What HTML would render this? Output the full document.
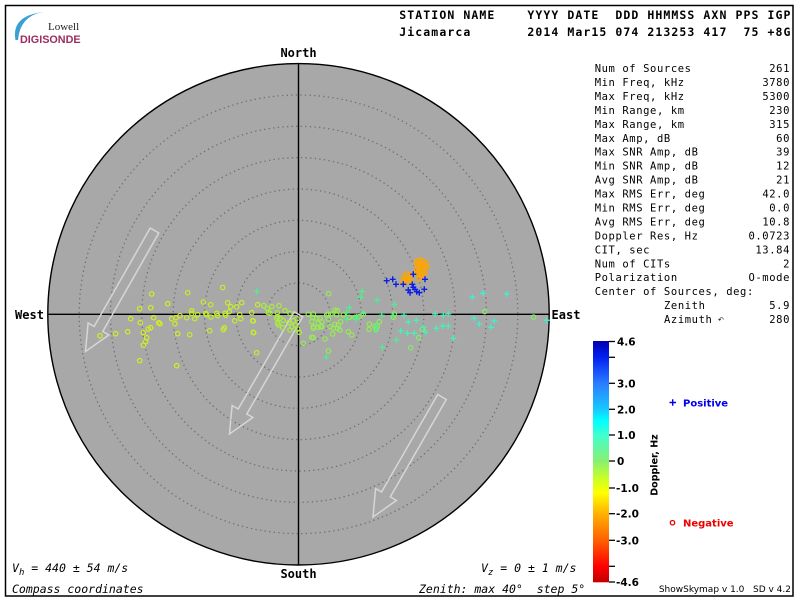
<!DOCTYPE html>
<html><head><meta charset="utf-8"><style>
html,body{margin:0;padding:0;background:#fff;}
svg{display:block;}
.hdr{font-family:"DejaVu Sans Mono","Liberation Mono",monospace;font-weight:bold;font-size:11.5px;letter-spacing:1.08px;white-space:pre;}
.st{font-family:"DejaVu Sans Mono","Liberation Mono",monospace;font-size:10.5px;letter-spacing:0.6px;white-space:pre;}
.cmp{font-family:"DejaVu Sans Mono","Liberation Mono",monospace;font-weight:bold;font-size:12px;}
.cb{font-family:"DejaVu Sans","Liberation Sans",sans-serif;font-weight:bold;font-size:10.5px;}
.it{font-family:"DejaVu Sans Mono","Liberation Mono",monospace;font-style:italic;font-size:11.5px;white-space:pre;}
</style></head><body>
<svg width="800" height="600" viewBox="0 0 800 600" xmlns="http://www.w3.org/2000/svg">
<defs>
<linearGradient id="cbg" x1="0" y1="0" x2="0" y2="1">
<stop offset="0" stop-color="#0000b0"/>
<stop offset="0.066" stop-color="#0020f0"/>
<stop offset="0.174" stop-color="#2a7cff"/>
<stop offset="0.282" stop-color="#18c8ff"/>
<stop offset="0.33" stop-color="#00ffff"/>
<stop offset="0.39" stop-color="#40ffd0"/>
<stop offset="0.498" stop-color="#88f070"/>
<stop offset="0.577" stop-color="#d0ff20"/>
<stop offset="0.63" stop-color="#ffff00"/>
<stop offset="0.718" stop-color="#ffb000"/>
<stop offset="0.826" stop-color="#ff6000"/>
<stop offset="0.934" stop-color="#ff0000"/>
<stop offset="1" stop-color="#c00000"/>
</linearGradient>
</defs>
<rect x="0" y="0" width="800" height="600" fill="#fff"/>
<rect x="5.5" y="5.5" width="787.5" height="590.5" fill="none" stroke="#000" stroke-width="1.5"/>

<!-- logo -->
<path d="M15.5 40 Q11 16 43 12 Q20 16 18 40 Z" fill="#3a9fd2"/>
<text x="48" y="30" font-family="Liberation Serif,serif" font-size="11px" fill="#222">Lowell</text>
<text x="20" y="43" font-family="Liberation Sans,sans-serif" font-weight="bold" font-size="10.8px" fill="#9c2d62">DIGISONDE</text>

<!-- header -->
<text class="hdr" x="399.3" y="19">STATION NAME    YYYY DATE  DDD HHMMSS AXN PPS IGP</text>
<text class="hdr" x="399.3" y="36">Jicamarca       2014 Mar15 074 213253 417  75 +8G</text>

<!-- sky disk -->
<circle cx="298.5" cy="314.3" r="250.7" fill="#a8a8a8"/>
<g fill="none" stroke="#6e6e6e" stroke-width="1.3" stroke-dasharray="1.3 3.3">
<circle cx="298.5" cy="314.3" r="31.3"/>
<circle cx="298.5" cy="314.3" r="62.7"/>
<circle cx="298.5" cy="314.3" r="94"/>
<circle cx="298.5" cy="314.3" r="125.3"/>
<circle cx="298.5" cy="314.3" r="156.7"/>
<circle cx="298.5" cy="314.3" r="188"/>
<circle cx="298.5" cy="314.3" r="219.3"/>
</g>
<circle cx="298.5" cy="314.3" r="250.7" fill="none" stroke="#000" stroke-width="1.4"/>
<line x1="47.8" y1="314.3" x2="549.2" y2="314.3" stroke="#000" stroke-width="1.4"/>
<line x1="298.5" y1="63.6" x2="298.5" y2="565" stroke="#000" stroke-width="1.4"/>

<!-- arrows -->
<g fill="none" stroke="#d6d6d6" stroke-width="1.5" stroke-linejoin="miter">
<polygon points="158.8,233 102.8,331.5 108.9,334.9 85.5,351.5 88.1,323 94.1,326.5 150.2,228"/>
<polygon points="302.8,316.8 246.8,414 252.9,417.5 229.5,434 232.1,405.5 238.2,409 294.2,311.8"/>
<polygon points="446.3,399.5 390.3,496.9 396.4,500.4 373,517 375.6,488.5 381.6,492 437.7,394.5"/>
</g>

<!-- circles (negative doppler) -->
<g fill="none" stroke="#d4f01e" stroke-width="1.2">
<circle cx="151.7" cy="294" r="2.2"/><circle cx="139.7" cy="308.7" r="2.2"/><circle cx="150.7" cy="307.7" r="2.2"/><circle cx="167.7" cy="303.7" r="2.2"/><circle cx="180" cy="315.7" r="2.2"/><circle cx="176" cy="317.7" r="2.2"/><circle cx="171.7" cy="318.7" r="2.2"/><circle cx="130.7" cy="318.7" r="2.2"/><circle cx="153.7" cy="317.7" r="2.2"/><circle cx="140.3" cy="322.7" r="2.2"/><circle cx="158.7" cy="322.7" r="2.2"/><circle cx="160" cy="323.7" r="2.2"/><circle cx="175" cy="323.7" r="2.2"/><circle cx="100" cy="335.7" r="2.2"/><circle cx="115.7" cy="333.7" r="2.2"/><circle cx="127.7" cy="331.7" r="2.2"/><circle cx="143.3" cy="332.7" r="2.2"/><circle cx="148.3" cy="329" r="2.2"/><circle cx="150.7" cy="327.7" r="2.2"/><circle cx="177.7" cy="333.7" r="2.2"/><circle cx="146.7" cy="337.7" r="2.2"/><circle cx="145.7" cy="341.7" r="2.2"/><circle cx="143.3" cy="345" r="2.2"/><circle cx="139.7" cy="360.7" r="2.2"/><circle cx="176.7" cy="365.7" r="2.2"/>
</g>
<g fill="none" stroke="#c4f028" stroke-width="1.2">
<circle cx="187.7" cy="292.7" r="2.2"/><circle cx="222.7" cy="287.5" r="2.2"/><circle cx="203.3" cy="302" r="2.2"/><circle cx="210.7" cy="304.7" r="2.2"/><circle cx="227.7" cy="302.7" r="2.2"/><circle cx="230.7" cy="306.7" r="2.2"/><circle cx="236.7" cy="306.7" r="2.2"/><circle cx="241.7" cy="302.7" r="2.2"/><circle cx="257.7" cy="304.7" r="2.2"/><circle cx="191.7" cy="310.7" r="2.2"/><circle cx="191.7" cy="313.3" r="2.2"/><circle cx="197.7" cy="314.7" r="2.2"/><circle cx="205.7" cy="313.3" r="2.2"/><circle cx="206.7" cy="314.7" r="2.2"/><circle cx="216.7" cy="313.3" r="2.2"/><circle cx="217.7" cy="315.7" r="2.2"/><circle cx="225" cy="313.3" r="2.2"/><circle cx="225.7" cy="315.3" r="2.2"/><circle cx="229.3" cy="311.7" r="2.2"/><circle cx="239.7" cy="314.7" r="2.2"/><circle cx="251.7" cy="312.7" r="2.2"/><circle cx="186.7" cy="317.7" r="2.2"/><circle cx="194.7" cy="318.7" r="2.2"/><circle cx="211" cy="317" r="2.2"/><circle cx="234.7" cy="320.7" r="2.2"/><circle cx="240.7" cy="318.7" r="2.2"/><circle cx="252.7" cy="320.7" r="2.2"/><circle cx="189.7" cy="334.7" r="2.2"/><circle cx="209.7" cy="330.7" r="2.2"/><circle cx="223.3" cy="329.7" r="2.2"/><circle cx="224.3" cy="327.7" r="2.2"/><circle cx="253.7" cy="332.7" r="2.2"/><circle cx="256.7" cy="352.7" r="2.2"/><circle cx="253.3" cy="321" r="2.2"/><circle cx="253.3" cy="332.3" r="2.2"/>
</g>
<g fill="none" stroke="#aaee3c" stroke-width="1.2">
<circle cx="263.7" cy="305.7" r="2.2"/><circle cx="267.3" cy="308.3" r="2.2"/><circle cx="271.7" cy="306.7" r="2.2"/><circle cx="279" cy="305.7" r="2.2"/><circle cx="285" cy="310.7" r="2.2"/><circle cx="290" cy="313.3" r="2.2"/><circle cx="270" cy="313.3" r="2.2"/><circle cx="277.3" cy="312.7" r="2.2"/><circle cx="277.7" cy="316.7" r="2.2"/><circle cx="280" cy="318.3" r="2.2"/><circle cx="283.3" cy="320.3" r="2.2"/><circle cx="288.7" cy="322.7" r="2.2"/><circle cx="293.3" cy="320.7" r="2.2"/><circle cx="297" cy="318.7" r="2.2"/><circle cx="277.7" cy="323.3" r="2.2"/><circle cx="278.7" cy="325" r="2.2"/><circle cx="292" cy="326.7" r="2.2"/><circle cx="295.3" cy="325" r="2.2"/><circle cx="297.7" cy="329" r="2.2"/><circle cx="282.7" cy="327.7" r="2.2"/><circle cx="299.3" cy="332.3" r="2.2"/><circle cx="268.3" cy="312.7" r="2.2"/><circle cx="276.7" cy="318.3" r="2.2"/><circle cx="290" cy="330" r="2.2"/>
</g>
<g fill="none" stroke="#96ec52" stroke-width="1.2">
<circle cx="303.3" cy="343.3" r="2.2"/><circle cx="308.3" cy="314.3" r="2.2"/><circle cx="313.3" cy="314" r="2.2"/><circle cx="312.7" cy="317.3" r="2.2"/><circle cx="328.3" cy="314" r="2.2"/><circle cx="331" cy="314" r="2.2"/><circle cx="337.3" cy="310.7" r="2.2"/><circle cx="336.7" cy="315" r="2.2"/><circle cx="343.3" cy="315" r="2.2"/><circle cx="349.3" cy="317.3" r="2.2"/><circle cx="355" cy="317.3" r="2.2"/><circle cx="359.3" cy="316.7" r="2.2"/><circle cx="363.3" cy="314" r="2.2"/><circle cx="369.3" cy="324" r="2.2"/><circle cx="379.3" cy="321.7" r="2.2"/><circle cx="377.3" cy="326" r="2.2"/><circle cx="375" cy="326" r="2.2"/><circle cx="369" cy="329.3" r="2.2"/><circle cx="376" cy="329.3" r="2.2"/><circle cx="338.3" cy="325" r="2.2"/><circle cx="333.3" cy="328.3" r="2.2"/><circle cx="330" cy="326.7" r="2.2"/><circle cx="340" cy="330" r="2.2"/><circle cx="332.7" cy="334" r="2.2"/><circle cx="325" cy="339" r="2.2"/><circle cx="313.3" cy="328.3" r="2.2"/><circle cx="318.3" cy="327.3" r="2.2"/><circle cx="313.3" cy="337.7" r="2.2"/><circle cx="321.7" cy="326.7" r="2.2"/><circle cx="348.3" cy="331.7" r="2.2"/><circle cx="351.7" cy="335" r="2.2"/><circle cx="393.3" cy="317.3" r="2.2"/><circle cx="394.3" cy="314" r="2.2"/><circle cx="316.7" cy="318.3" r="2.2"/><circle cx="320" cy="318.3" r="2.2"/><circle cx="321.7" cy="321.7" r="2.2"/><circle cx="318.3" cy="323.3" r="2.2"/><circle cx="311.7" cy="321.7" r="2.2"/><circle cx="313.3" cy="326.7" r="2.2"/><circle cx="320.7" cy="326.7" r="2.2"/><circle cx="326.7" cy="315" r="2.2"/><circle cx="328.3" cy="319" r="2.2"/><circle cx="335" cy="310" r="2.2"/><circle cx="335" cy="324.3" r="2.2"/><circle cx="340.7" cy="321.7" r="2.2"/><circle cx="337.3" cy="328.3" r="2.2"/><circle cx="328.5" cy="351" r="2.2"/><circle cx="311.7" cy="337.3" r="2.2"/><circle cx="328.7" cy="293.7" r="2.2"/>
</g>
<g fill="none" stroke="#84ec6a" stroke-width="1.2">
<circle cx="484.7" cy="311.7" r="2.2"/><circle cx="533.7" cy="317" r="2.2"/><circle cx="422.3" cy="329.3" r="2.2"/><circle cx="418.7" cy="337.7" r="2.2"/><circle cx="410.7" cy="347.7" r="2.2"/>
</g>
<g fill="none" stroke="#ffa500" stroke-width="1.3">
<circle cx="417" cy="261" r="2.2"/><circle cx="420" cy="260" r="2.2"/><circle cx="423" cy="261" r="2.2"/><circle cx="426" cy="263" r="2.2"/><circle cx="416" cy="264" r="2.2"/><circle cx="419" cy="264" r="2.2"/><circle cx="422" cy="264" r="2.2"/><circle cx="425" cy="266" r="2.2"/><circle cx="418" cy="267" r="2.2"/><circle cx="421" cy="267" r="2.2"/><circle cx="424" cy="269" r="2.2"/><circle cx="427" cy="267" r="2.2"/><circle cx="417" cy="270" r="2.2"/><circle cx="420" cy="270" r="2.2"/><circle cx="423" cy="272" r="2.2"/><circle cx="419" cy="273" r="2.2"/><circle cx="422" cy="275" r="2.2"/><circle cx="416" cy="273" r="2.2"/><circle cx="425" cy="273" r="2.2"/><circle cx="420" cy="276" r="2.2"/><circle cx="404" cy="276" r="2.2"/><circle cx="407" cy="274" r="2.2"/><circle cx="410" cy="275" r="2.2"/><circle cx="405" cy="279" r="2.2"/><circle cx="408" cy="278" r="2.2"/><circle cx="411" cy="279" r="2.2"/><circle cx="403" cy="281" r="2.2"/><circle cx="406" cy="282" r="2.2"/><circle cx="409" cy="281" r="2.2"/><circle cx="419" cy="279" r="2.2"/>
</g>

<!-- plusses (positive doppler) -->
<path fill="none" stroke="#50ee90" stroke-width="1.3" d="M253.7 291.5h6M256.7 288.5v6M359 291.5h6M362 288.5v6M357.7 297.3h6M360.7 294.3v6M374.3 300.3h6M377.3 297.3v6M391.3 304.3h6M394.3 301.3v6M346.3 307.7h6M349.3 304.7v6M343.7 312.5h6M346.7 309.5v6M360.3 313.3h6M363.3 310.3v6M390.3 315.5h6M393.3 312.5v6M378.7 315.3h6M381.7 312.3v6M393.3 340h6M396.3 337v6M379.3 347.3h6M382.3 344.3v6M323.3 357.3h6M326.3 354.3v6M372.7 330h6M375.7 327v6M373.7 325h6M376.7 322v6M353.7 316.7h6M356.7 313.7v6M343.7 319h6M346.7 316v6M353 319h6M356 316v6"/>
<path fill="none" stroke="#48f0b4" stroke-width="1.3" d="M401 315.3h6M404 312.3v6M432 314h6M435 311v6M445.3 314h6M448.3 311v6M440.3 315.3h6M443.3 312.3v6M405.3 322h6M408.3 319v6M413.3 320.3h6M416.3 317.3v6M397.7 331h6M400.7 328v6M404.3 333.3h6M407.3 330.3v6M411.3 333.3h6M414.3 330.3v6M420.3 327.3h6M423.3 324.3v6M422.7 332.3h6M425.7 329.3v6M433.3 328.3h6M436.3 325.3v6M439.7 326h6M442.7 323v6M445.3 326h6M448.3 323v6M450.3 338.3h6M453.3 335.3v6"/>
<path fill="none" stroke="#40f0cc" stroke-width="1.3" d="M469.3 297.3h6M472.3 294.3v6M480 293.3h6M483 290.3v6M503.7 294h6M506.7 291v6M471 318.3h6M474 315.3v6M491.3 321h6M494.3 318v6M476.3 324h6M479.3 321v6M488 327.3h6M491 324.3v6M543.7 320.3h6M546.7 317.3v6"/>
<path fill="none" stroke="#0a1ee6" stroke-width="1.4" d="M383.7 280.7h6M386.7 277.7v6M389.7 279.3h6M392.7 276.3v6M393 284.3h6M396 281.3v6M400.3 284.3h6M403.3 281.3v6M410.3 274.3h6M413.3 271.3v6M409.3 284.3h6M412.3 281.3v6M410.3 287.3h6M413.3 284.3v6M405.3 290h6M408.3 287v6M407 292.7h6M410 289.7v6M412 289.3h6M415 286.3v6M413.7 291.7h6M416.7 288.7v6M416.3 292.7h6M419.3 289.7v6M421.3 289.3h6M424.3 286.3v6M422 279.3h6M425 276.3v6"/>

<!-- compass labels -->
<text class="cmp" x="298.5" y="57" text-anchor="middle">North</text>
<text class="cmp" x="298.5" y="578" text-anchor="middle">South</text>
<text class="cmp" x="29.5" y="319" text-anchor="middle">West</text>
<text class="cmp" x="566" y="319" text-anchor="middle">East</text>

<!-- stats -->
<g class="st">
<text x="594.7" y="72.1">Num of Sources</text><text x="790" y="72.1" text-anchor="end">261</text>
<text x="594.7" y="86">Min Freq, kHz</text><text x="790" y="86" text-anchor="end">3780</text>
<text x="594.7" y="100">Max Freq, kHz</text><text x="790" y="100" text-anchor="end">5300</text>
<text x="594.7" y="113.9">Min Range, km</text><text x="790" y="113.9" text-anchor="end">230</text>
<text x="594.7" y="127.9">Max Range, km</text><text x="790" y="127.9" text-anchor="end">315</text>
<text x="594.7" y="141.8">Max Amp, dB</text><text x="790" y="141.8" text-anchor="end">60</text>
<text x="594.7" y="155.7">Max SNR Amp, dB</text><text x="790" y="155.7" text-anchor="end">39</text>
<text x="594.7" y="169.7">Min SNR Amp, dB</text><text x="790" y="169.7" text-anchor="end">12</text>
<text x="594.7" y="183.6">Avg SNR Amp, dB</text><text x="790" y="183.6" text-anchor="end">21</text>
<text x="594.7" y="197.6">Max RMS Err, deg</text><text x="790" y="197.6" text-anchor="end">42.0</text>
<text x="594.7" y="211.5">Min RMS Err, deg</text><text x="790" y="211.5" text-anchor="end">0.0</text>
<text x="594.7" y="225.4">Avg RMS Err, deg</text><text x="790" y="225.4" text-anchor="end">10.8</text>
<text x="594.7" y="239.4">Doppler Res, Hz</text><text x="790" y="239.4" text-anchor="end">0.0723</text>
<text x="594.7" y="253.3">CIT, sec</text><text x="790" y="253.3" text-anchor="end">13.84</text>
<text x="594.7" y="267.3">Num of CITs</text><text x="790" y="267.3" text-anchor="end">2</text>
<text x="594.7" y="281.2">Polarization</text><text x="790" y="281.2" text-anchor="end">O-mode</text>
<text x="594.7" y="295.1">Center of Sources, deg:</text>
<text x="664" y="309.1">Zenith</text><text x="790" y="309.1" text-anchor="end">5.9</text>
<text x="664" y="323">Azimuth</text><text x="790" y="323" text-anchor="end">280</text>
</g>
<text x="718" y="322" font-family="DejaVu Sans,sans-serif" font-size="7px" fill="#000">↶</text>

<!-- colorbar -->
<rect x="593" y="341" width="16" height="241.3" fill="url(#cbg)"/>
<g stroke="#000" stroke-width="1.3">
<line x1="609" y1="341.5" x2="615" y2="341.5"/>
<line x1="609" y1="357.3" x2="615" y2="357.3"/>
<line x1="609" y1="383.3" x2="615" y2="383.3"/>
<line x1="609" y1="409.3" x2="615" y2="409.3"/>
<line x1="609" y1="435" x2="615" y2="435"/>
<line x1="609" y1="461" x2="615" y2="461"/>
<line x1="609" y1="488" x2="615" y2="488"/>
<line x1="609" y1="513.7" x2="615" y2="513.7"/>
<line x1="609" y1="540.3" x2="615" y2="540.3"/>
<line x1="609" y1="566.3" x2="615" y2="566.3"/>
<line x1="609" y1="582" x2="615" y2="582"/>
</g>
<g class="cb">
<text x="617" y="345.5">4.6</text>
<text x="617" y="387.3">3.0</text>
<text x="617" y="413.3">2.0</text>
<text x="617" y="439">1.0</text>
<text x="617" y="465">0</text>
<text x="616" y="492">-1.0</text>
<text x="616" y="517.7">-2.0</text>
<text x="616" y="544.3">-3.0</text>
<text x="616" y="586">-4.6</text>
</g>
<text x="0" y="0" transform="translate(657.5,465) rotate(-90)" text-anchor="middle" font-family="DejaVu Sans,Liberation Sans,sans-serif" font-weight="bold" font-size="9.5px" fill="#000">Doppler, Hz</text>

<!-- legend -->
<path d="M669.5 402.5h6.5M672.7 399.2v6.6" stroke="#0000ee" stroke-width="1.4" fill="none"/>
<text x="683" y="406.3" font-family="DejaVu Sans,Liberation Sans,sans-serif" font-weight="bold" font-size="10px" fill="#0000ee">Positive</text>
<circle cx="672.5" cy="522.7" r="2.2" fill="none" stroke="#ee0000" stroke-width="1.3"/>
<text x="683" y="526.5" font-family="DejaVu Sans,Liberation Sans,sans-serif" font-weight="bold" font-size="10px" fill="#ee0000">Negative</text>

<text x="791" y="592" text-anchor="end" font-family="DejaVu Sans,Liberation Sans,sans-serif" font-size="9px" fill="#000" style="white-space:pre">ShowSkymap v 1.0   SD v 4.2</text>

<!-- bottom italic texts -->
<text class="it" x="12" y="572">V<tspan font-size="9px" dy="3">h</tspan><tspan dy="-3"> = 440 ± 54 m/s</tspan></text>
<text class="it" x="12" y="593">Compass coordinates</text>
<text class="it" x="481" y="572">V<tspan font-size="9px" dy="3">z</tspan><tspan dy="-3"> = 0 ± 1 m/s</tspan></text>
<text class="it" x="419" y="593">Zenith: max 40°  step 5°</text>
</svg>
</body></html>
